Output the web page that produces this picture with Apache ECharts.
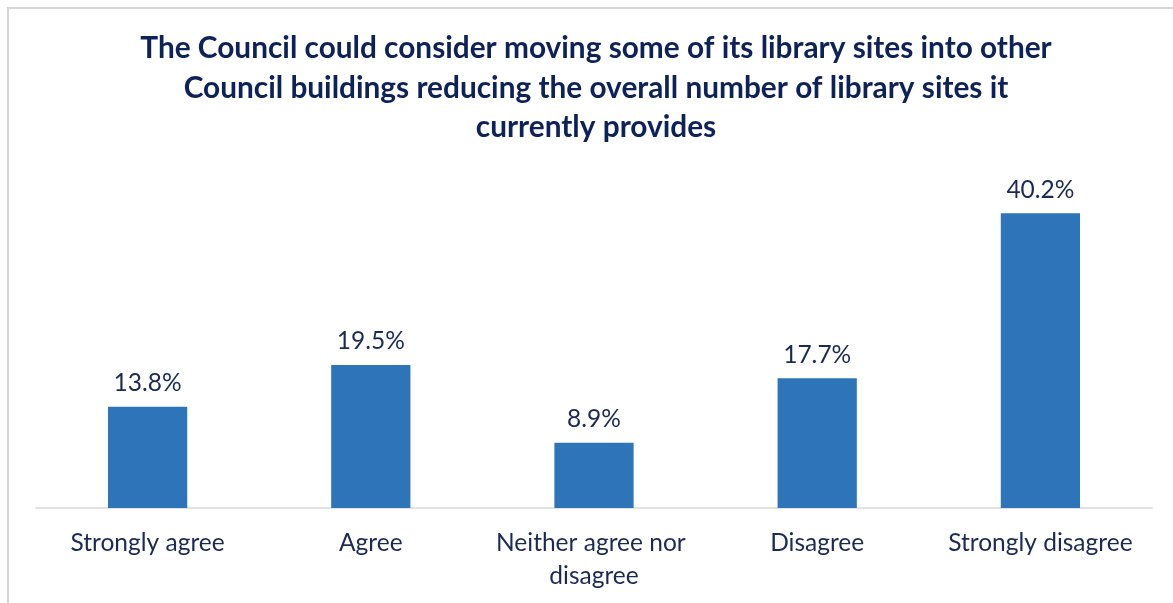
<!DOCTYPE html>
<html>
<head>
<meta charset="utf-8">
<script src="https://cdn.jsdelivr.net/npm/echarts@6/dist/echarts.min.js"></script>
<style>
  html, body { margin: 0; padding: 0; background: #fff; }
  #frame { position: absolute; left: 7px; top: 7px; width: 1180px; height: 610px; border: 2px solid #D6D6D6; box-sizing: border-box; }
  #chart { position: absolute; left: 0; top: 0; width: 1173px; height: 603px; }
</style>
</head>
<body>
<div id="frame"></div>
<div id="chart"></div>
<script>
const titleText = 'The Council could consider moving some of its library sites into other\nCouncil buildings reducing the overall number of library sites it\ncurrently provides';
const categories = ['Strongly agree', 'Agree', 'Neither agree nor disagree', 'Disagree', 'Strongly disagree'];
const shares = [13.8, 19.5, 8.9, 17.7, 40.2];

const chart = echarts.init(document.getElementById('chart'), null, { renderer: 'canvas' });
chart.setOption({
  animation: false,
  backgroundColor: 'transparent',
  title: {
    text: titleText,
    left: 591,
    top: 24,
    textAlign: 'center',
    textStyle: {
      fontFamily: 'Lato',
      fontWeight: 'bold',
      fontSize: 29.8,
      lineHeight: 39.5,
      color: '#0C2258'
    }
  },
  grid: { left: 36, right: 21, top: 178, bottom: 95, containLabel: false },
  xAxis: {
    type: 'category',
    data: categories,
    axisLine: { lineStyle: { color: '#D9D9D9', width: 1.5 } },
    axisTick: { show: false },
    axisLabel: {
      fontFamily: 'Lato',
      fontSize: 24.5,
      color: '#1B2A55',
      margin: 19,
      lineHeight: 33,
      width: 218,
      overflow: 'break',
      interval: 0
    }
  },
  yAxis: {
    type: 'value',
    min: 0,
    max: 45,
    show: false,
    splitLine: { show: false }
  },
  series: [{
    type: 'bar',
    data: shares,
    barWidth: '35.5%',
    itemStyle: { color: '#2E74B8' },
    label: {
      show: true,
      position: 'top',
      distance: 11,
      formatter: p => p.value.toFixed(1) + '%',
      fontFamily: 'Lato',
      fontSize: 24.5,
      color: '#1B2A55'
    }
  }]
});
</script>
</body>
</html>
